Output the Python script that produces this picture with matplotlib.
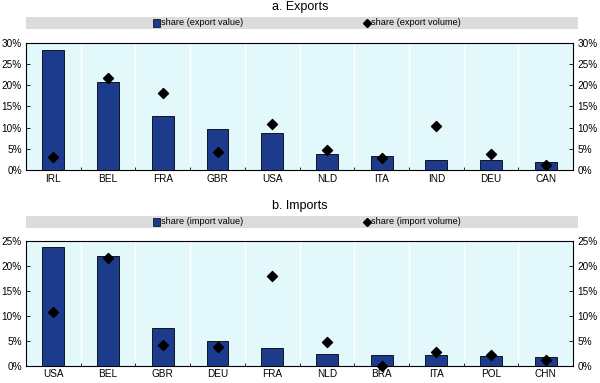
import matplotlib
matplotlib.use("Agg")
import matplotlib.pyplot as plt
from matplotlib.patches import Rectangle
from matplotlib.ticker import FuncFormatter, MultipleLocator
import numpy as np

plt.rcParams['font.family'] = ['Liberation Sans', 'DejaVu Sans']

exp_countries = ["IRL", "BEL", "FRA", "GBR", "USA", "NLD", "ITA", "IND", "DEU", "CAN"]
exp_value = [28.3, 20.7, 12.8, 9.7, 8.7, 3.7, 3.2, 2.3, 2.3, 1.9]
exp_volume = [3.1, 21.6, 18.1, 4.2, 10.8, 4.8, 2.8, 10.5, 3.9, 1.3]

imp_countries = ["USA", "BEL", "GBR", "DEU", "FRA", "NLD", "BRA", "ITA", "POL", "CHN"]
imp_value = [23.8, 21.9, 7.6, 5.05, 3.55, 2.45, 2.2, 2.1, 1.95, 1.8]
imp_volume = [10.7, 21.6, 4.1, 3.8, 18.0, 4.7, 0.0, 2.85, 2.1, 1.2]

BAR = '#1d3b8c'
BG = '#e3f8fb'
BAND = '#dcdcdc'
FS = 7.2
LFS = 6.6

fig = plt.figure(figsize=(6.0, 3.83), dpi=100)

def panel(ax_rect, band_rect, title, title_y, cats, vals, vols, ymax, step, lab1, lab2):
    ax = fig.add_axes(ax_rect)
    x = np.arange(len(cats))
    ax.set_facecolor(BG)
    ax.bar(x, vals, width=0.4, color=BAR, edgecolor='black', linewidth=0.6, zorder=3)
    ax.scatter(x, vols, marker='D', s=26, color='black', zorder=4, clip_on=False)
    ax.set_xlim(-0.5, len(cats) - 0.5)
    ax.set_ylim(0, ymax)
    for b in np.arange(0.5, len(cats) - 0.5, 1.0):
        ax.axvline(b, color='white', lw=1.0, zorder=1)
    ax.set_xticks(x)
    ax.set_xticklabels(cats, fontsize=FS)
    ax.set_xticks(np.arange(0.5, len(cats) - 0.5, 1.0), minor=True)
    ax.tick_params(axis='x', which='major', length=0, pad=2.5)
    ax.tick_params(axis='x', which='minor', direction='in', length=2.5, width=0.6)
    ax.yaxis.set_major_locator(MultipleLocator(step))
    ax.yaxis.set_major_formatter(FuncFormatter(lambda v, p: f"{int(round(v))}%"))
    ax.tick_params(axis='y', direction='in', length=3, width=0.6, labelsize=FS,
                   left=True, right=True, labelleft=True, labelright=True, pad=3)
    for s in ax.spines.values():
        s.set_linewidth(0.8)
        s.set_color('black')
    # legend band
    bx, by, bw, bh = band_rect
    fig.patches.append(Rectangle((bx, by), bw, bh, transform=fig.transFigure,
                                 facecolor=BAND, edgecolor='none'))
    cy = by + bh / 2
    sx = 0.255
    fig.patches.append(Rectangle((sx, cy - 0.011), 0.011, 0.022, transform=fig.transFigure,
                                 facecolor=BAR, edgecolor='black', linewidth=0.5))
    fig.text(sx + 0.014, cy, lab1, fontsize=LFS, va='center', ha='left')
    dx = 0.611
    fig.lines.append(plt.Line2D([dx], [cy], transform=fig.transFigure, marker='D',
                                markersize=4.5, color='black', linestyle='none'))
    fig.text(dx + 0.008, cy, lab2, fontsize=LFS, va='center', ha='left')
    fig.text(0.5, title_y, title, fontsize=9, ha='center', va='center')
    return ax

panel([0.0433, 0.556, 0.912, 0.332], [0.0433, 0.924, 0.92, 0.032], "a. Exports", 0.982,
      exp_countries, exp_value, exp_volume, 30, 5,
      "share (export value)", "share (export volume)")
panel([0.0433, 0.045, 0.912, 0.326], [0.0433, 0.405, 0.92, 0.031], "b. Imports", 0.463,
      imp_countries, imp_value, imp_volume, 25, 5,
      "share (import value)", "share (import volume)")

fig.savefig("out.png", dpi=100)
